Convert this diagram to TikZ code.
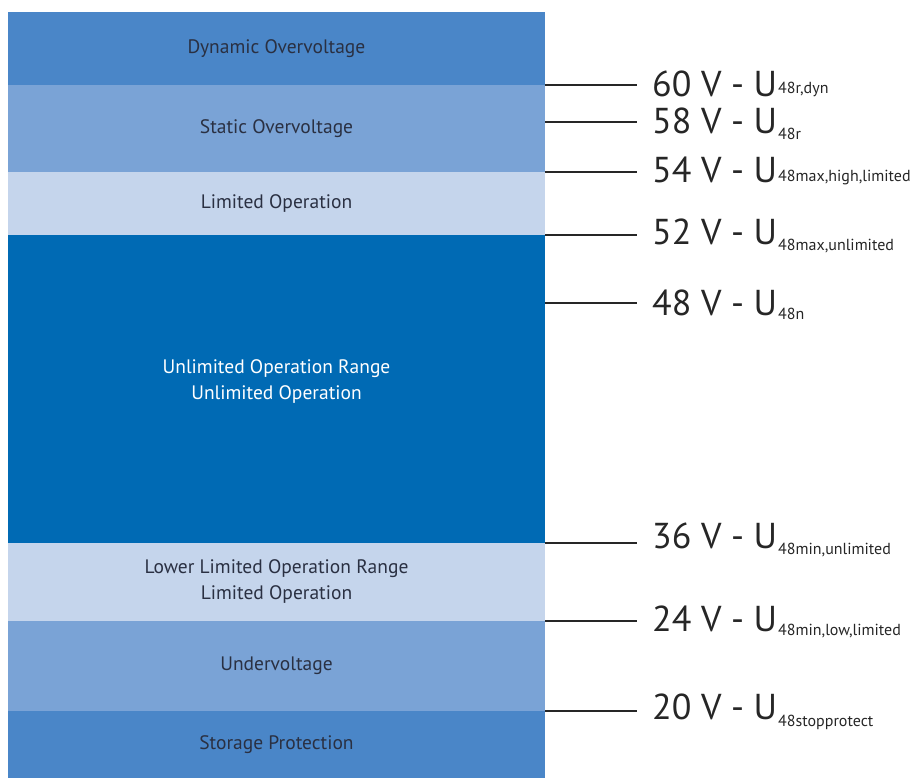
\documentclass[tikz,border=0pt]{standalone}
\usepackage{fontspec}
\setmainfont{PT Sans}
\begin{document}
\definecolor{bandmid}{HTML}{4A86C8}
\definecolor{bandsoft}{HTML}{7AA3D6}
\definecolor{bandpale}{HTML}{C5D5EC}
\definecolor{banddeep}{HTML}{006AB4}
\definecolor{bandtext}{HTML}{2A3042}
\definecolor{valtext}{HTML}{262626}
\begin{tikzpicture}[x=1pt,y=1pt,
  band/.style={rectangle, inner sep=0pt, outer sep=0pt, minimum width=537pt,
    font=\fontsize{19.5}{26}\selectfont, text=bandtext, align=center},
  tick/.style={line width=1.8pt, draw=valtext},
  val/.style={anchor=base west, inner sep=0pt, text=valtext,
    font=\fontsize{36}{40}\selectfont},
  sub/.style={anchor=base west, inner sep=0pt, text=valtext,
    font=\fontsize{16}{18}\selectfont}]
\useasboundingbox (0,0) rectangle (915,778);

% voltage bands, top to bottom
\node[band, fill=bandmid,  minimum height=73pt]  (dyn)   at (276.5,729.5) {Dynamic Overvoltage};
\node[band, fill=bandsoft, minimum height=87pt]  (stat)  at (276.5,649.5) {Static Overvoltage};
\node[band, fill=bandpale, minimum height=63pt]  (limhi) at (276.5,574.5) {Limited Operation};
\node[band, fill=banddeep, minimum height=308pt] (unlim) at (276.5,389) {};
\node[band, text=white, anchor=center] (unlimtxt) at (276.5,396) {Unlimited Operation Range\\Unlimited Operation};
\node[band, fill=bandpale, minimum height=78pt]  (limlo) at (276.5,196) {Lower Limited Operation Range\\Limited Operation};
\node[band, fill=bandsoft, minimum height=90pt]  (under) at (276.5,112) {Undervoltage};
\node[band, fill=bandmid,  minimum height=67pt]  (store) at (276.5,33.5) {Storage Protection};

% tick ends
\coordinate (e60) at (637,693);
\coordinate (e58) at (637,656);
\coordinate (e54) at (637,606);
\coordinate (e52) at (637,543);
\coordinate (e48) at (637,475);
\coordinate (e36) at (637,235);
\coordinate (e24) at (637,157);
\coordinate (e20) at (637,67);

% ticks
\draw[tick] (stat.east |- e60) -- (e60);
\draw[tick] (stat.east |- e58) -- (e58);
\draw[tick] (limhi.north east) -- (e54);
\draw[tick] (unlim.north east) -- (e52);
\draw[tick] (unlim.east |- e48) -- (e48);
\draw[tick] (limlo.north east) -- (e36);
\draw[tick] (under.north east) -- (e24);
\draw[tick] (store.north east) -- (e20);

% voltage labels
\node[val] (v60) at (652,681) {60 V - U};
\node[sub] (s60) at (778,684) {48r,dyn};
\node[val] (v58) at (652,644) {58 V - U};
\node[sub] (s58) at (778,638) {48r};
\node[val] (v54) at (652,595) {54 V - U};
\node[sub] (s54) at (778,596) {48max,high,limited};
\node[val] (v52) at (652,533) {52 V - U};
\node[sub] (s52) at (778,527) {48max,unlimited};
\node[val] (v48) at (652,462) {48 V - U};
\node[sub] (s48) at (778,458) {48n};
\node[val] (v36) at (652,229) {36 V - U};
\node[sub] (s36) at (778,223) {48min,unlimited};
\node[val] (v24) at (652,146) {24 V - U};
\node[sub] (s24) at (778,142) {48min,low,limited};
\node[val] (v20) at (652,58) {20 V - U};
\node[sub] (s20) at (778,51) {48stopprotect};
\end{tikzpicture}
\end{document}
